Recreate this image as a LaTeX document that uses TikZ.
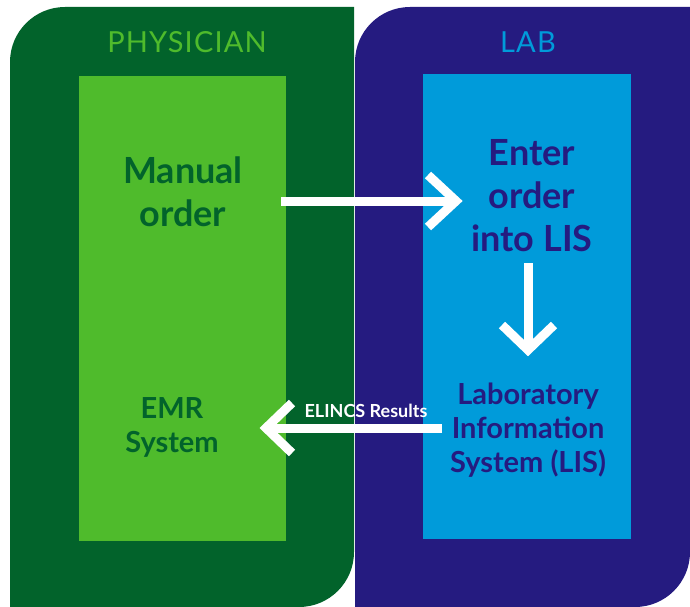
\documentclass[tikz,border=0pt]{standalone}
\usepackage{fontspec}
\setmainfont{Lato}
\newfontfamily\headfont[LetterSpace=4]{Lato}
\definecolor{dkgreen}{HTML}{02632B}
\definecolor{ltgreen}{HTML}{4FBB2C}
\definecolor{navy}{HTML}{251B80}
\definecolor{ltblue}{HTML}{009BDA}
\tikzset{
  arrowline/.style={draw=white, line width=9pt, line cap=butt},
  chevron/.style={draw=white, line width=9pt, line cap=butt, line join=miter},
  bigtext/.style={align=center, inner sep=0pt, font=\bfseries\fontsize{36}{43}\selectfont},
  midtext/.style={align=center, inner sep=0pt, font=\bfseries\fontsize{29}{34}\selectfont},
  headtext/.style={inner sep=0pt, font=\headfont\fontsize{29}{30}\selectfont},
}
\begin{document}
\begin{tikzpicture}[x=1pt,y=-1pt]
\useasboundingbox (0,0) rectangle (690,607);
% panels
\fill[dkgreen] (10,607) -- (10,62) arc[start angle=180, end angle=270, radius=55] -- (354,7) -- (354,552) arc[start angle=0, end angle=90, radius=55] -- cycle;
\fill[navy] (355,607) -- (355,62) arc[start angle=180, end angle=270, radius=55] -- (690,7) -- (690,552) arc[start angle=0, end angle=90, radius=55] -- cycle;
\fill[ltgreen] (79,76) rectangle (286,541);
\fill[ltblue] (423,74) rectangle (631,539);
% headings
\node[headtext, text=ltgreen] (phys) at (187,42) {PHYSICIAN};
\node[headtext, text=ltblue] (lab) at (528,42) {LAB};
% texts
\node[bigtext, text=dkgreen] (manual) at (183,192) {Manual\\order};
\node[bigtext, text=navy] (enter) at (532,196) {Enter\\order\\into LIS};
\node[midtext, text=dkgreen] (emr) at (172,427) {EMR\\System};
\node[midtext, text=navy] (lis) at (528,430) {Laboratory\\Information\\System (LIS)};
% arrow coordinates
\coordinate (rs) at (281,201);
\coordinate (rt) at (456,201);
\coordinate (ds) at (528,263);
\coordinate (dt) at (528,350);
\coordinate (ls) at (442,428);
\coordinate (lt) at (266,428);
% right arrow
\draw[arrowline] (rs) -- (rt);
\draw[chevron] ([shift={(-28,-26)}]rt) -- (rt) -- ([shift={(-28,26)}]rt);
% down arrow
\draw[arrowline] (ds) -- (dt);
\draw[chevron] ([shift={(-26,-25)}]dt) -- (dt) -- ([shift={(26,-25)}]dt);
% left arrow
\draw[arrowline] (ls) -- (lt);
\draw[chevron] ([shift={(26,-25)}]lt) -- (lt) -- ([shift={(26,25)}]lt);
\node[inner sep=0pt, text=white, font=\bfseries\fontsize{18}{20}\selectfont, anchor=base] (elincs) at (366,417) {ELINCS Results};
\end{tikzpicture}
\end{document}
